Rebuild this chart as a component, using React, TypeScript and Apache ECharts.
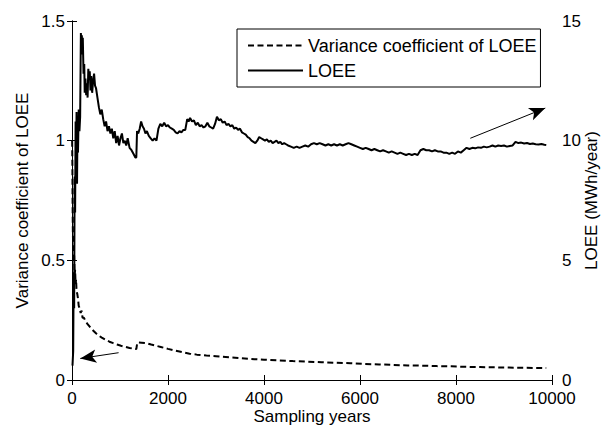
import { useEffect, useRef } from 'react';
import * as echarts from 'echarts';

const xTicks = [0, 2000, 4000, 6000, 8000, 10000];
const leftTicks = [0, 0.5, 1, 1.5];
const rightTicks = [0, 5, 10, 15];

const seriesNames = ['Variance coefficient of LOEE', 'LOEE'];

const loeeYears = [10, 25, 35, 45, 55, 65, 75, 85, 95, 105, 115, 125, 140, 155, 170, 185, 195, 205, 215, 225, 240, 255, 265, 280, 295, 310, 325, 340, 355, 370, 385, 400, 420, 440, 460, 480, 500, 530, 560, 590, 620, 650, 680, 710, 740, 770, 800, 830, 860, 890, 920, 950, 980, 1010, 1040, 1070, 1100, 1130, 1160, 1200, 1240, 1280, 1320, 1340, 1355, 1380, 1410, 1440, 1470, 1500, 1530, 1560, 1600, 1640, 1680, 1720, 1760, 1800, 1840, 1880, 1920, 1960, 2000, 2040, 2080, 2120, 2160, 2200, 2240, 2280, 2320, 2360, 2400, 2430, 2460, 2500, 2540, 2580, 2620, 2660, 2700, 2740, 2780, 2820, 2860, 2900, 2940, 2980, 3020, 3060, 3100, 3140, 3180, 3220, 3260, 3300, 3340, 3380, 3420, 3460, 3500, 3540, 3580, 3620, 3660, 3700, 3740, 3780, 3820, 3860, 3900, 3940, 3980, 4020, 4060, 4100, 4140, 4180, 4220, 4260, 4300, 4340, 4380, 4420, 4460, 4500, 4560, 4620, 4680, 4740, 4800, 4860, 4920, 4980, 5040, 5100, 5160, 5220, 5280, 5340, 5400, 5460, 5520, 5580, 5640, 5700, 5760, 5820, 5880, 5940, 6000, 6060, 6120, 6180, 6240, 6300, 6360, 6420, 6480, 6540, 6600, 6660, 6720, 6780, 6840, 6900, 6960, 7020, 7080, 7140, 7200, 7260, 7320, 7380, 7440, 7500, 7560, 7620, 7680, 7740, 7800, 7860, 7920, 7980, 8040, 8100, 8160, 8220, 8280, 8340, 8400, 8460, 8520, 8580, 8640, 8700, 8760, 8820, 8880, 8940, 9000, 9060, 9120, 9180, 9240, 9300, 9360, 9420, 9480, 9540, 9600, 9660, 9720, 9780, 9840, 9880];
const loeeValues = [0.6, 1.2, 4.5, 3.0, 8.5, 7.0, 10.8, 9.0, 11.2, 8.2, 10.9, 9.5, 11.3, 10.4, 11.0, 14.5, 13.8, 14.4, 13.6, 14.3, 12.8, 13.2, 12.0, 12.6, 11.9, 12.4, 11.8, 13.0, 12.6, 12.9, 12.1, 12.7, 12.0, 12.5, 12.8, 12.3, 12.2, 11.8, 11.4, 11.1, 11.3, 10.9, 10.6, 10.8, 10.4, 10.6, 10.3, 10.5, 10.1, 10.4, 9.9, 10.2, 9.8, 10.1, 10.3, 9.9, 10.0, 9.8, 10.1, 9.7, 9.6, 9.45, 9.3, 9.3, 10.4, 10.3, 10.5, 10.8, 10.6, 10.5, 10.3, 10.4, 10.2, 10.1, 10.0, 10.1, 10.0, 10.5, 10.7, 10.6, 10.75, 10.6, 10.65, 10.55, 10.5, 10.45, 10.35, 10.3, 10.4, 10.35, 10.45, 10.45, 10.9, 10.8, 10.95, 10.8, 10.85, 10.65, 10.75, 10.6, 10.65, 10.55, 10.6, 10.75, 10.6, 10.55, 10.5, 10.7, 11.0, 10.85, 10.9, 10.75, 10.8, 10.65, 10.7, 10.6, 10.65, 10.5, 10.55, 10.45, 10.5, 10.35, 10.3, 10.25, 10.15, 10.1, 10.0, 9.95, 9.9, 10.0, 10.15, 10.1, 10.05, 10.0, 10.05, 9.95, 10.0, 9.9, 9.95, 10.0, 9.9, 9.95, 9.85, 9.9, 9.85, 9.8, 9.75, 9.7, 9.75, 9.7, 9.75, 9.8, 9.75, 9.85, 9.9, 9.85, 9.9, 9.85, 9.8, 9.85, 9.8, 9.85, 9.8, 9.85, 9.8, 9.85, 9.9, 9.85, 9.8, 9.75, 9.7, 9.65, 9.7, 9.65, 9.6, 9.65, 9.6, 9.55, 9.6, 9.55, 9.5, 9.55, 9.5, 9.45, 9.5, 9.45, 9.4, 9.45, 9.4, 9.45, 9.4, 9.6, 9.65, 9.6, 9.6, 9.55, 9.6, 9.55, 9.55, 9.5, 9.5, 9.45, 9.5, 9.45, 9.55, 9.5, 9.6, 9.7, 9.65, 9.7, 9.68, 9.72, 9.7, 9.75, 9.72, 9.75, 9.8, 9.75, 9.8, 9.78, 9.8, 9.75, 9.78, 9.8, 9.95, 9.9, 9.92, 9.88, 9.9, 9.86, 9.88, 9.85, 9.84, 9.86, 9.83, 9.82];

const varYears = [3, 8, 12, 18, 25, 35, 45, 55, 65, 75, 85, 95, 110, 125, 140, 160, 180, 200, 220, 250, 280, 320, 360, 400, 450, 500, 560, 620, 700, 780, 860, 940, 1020, 1100, 1200, 1300, 1340, 1360, 1450, 1550, 1650, 1750, 1850, 2000, 2150, 2300, 2450, 2600, 2800, 3000, 3200, 3400, 3600, 3800, 4000, 4300, 4600, 4900, 5200, 5500, 5800, 6100, 6400, 6700, 7000, 7300, 7600, 7900, 8200, 8500, 8800, 9100, 9400, 9880];
const varValues = [1.0, 0.9, 0.75, 0.62, 0.55, 0.5, 0.52, 0.44, 0.46, 0.4, 0.42, 0.37, 0.36, 0.34, 0.31, 0.3, 0.28, 0.29, 0.26, 0.26, 0.245, 0.235, 0.225, 0.215, 0.205, 0.195, 0.185, 0.177, 0.168, 0.16, 0.154, 0.148, 0.143, 0.139, 0.134, 0.13, 0.129, 0.157, 0.156, 0.154, 0.148, 0.143, 0.138, 0.13, 0.123, 0.116, 0.11, 0.106, 0.102, 0.099, 0.096, 0.093, 0.09, 0.087, 0.085, 0.082, 0.079, 0.077, 0.074, 0.072, 0.07, 0.067, 0.065, 0.063, 0.061, 0.06, 0.058, 0.057, 0.055, 0.054, 0.053, 0.052, 0.051, 0.05];

// annotation arrows: [fromYear, fromValue, toYear, toValue]
const varArrow = [971, 0.114, 173, 0.09];
const loeeArrow = [8298, 10.1, 9860, 11.36];

const FONT = 'Liberation Sans, Arial, Helvetica, sans-serif';
const FS = 17;

export default function App() {
  const ref = useRef<HTMLDivElement>(null);
  useEffect(() => {
    if (!ref.current) return;
    const chart = echarts.init(ref.current, undefined, { renderer: 'svg' });
    const axisCommon = {
      axisLine: { show: true, lineStyle: { color: '#000', width: 1 } },
      axisTick: { show: true, inside: true, length: 5, lineStyle: { color: '#000' } },
      splitLine: { show: false },
      axisLabel: { color: '#000', fontSize: FS, fontFamily: FONT, formatter: (v: number) => String(v) },
      nameTextStyle: { color: '#000', fontSize: FS, fontFamily: FONT },
      nameMoveOverlap: false,
    };
    chart.setOption({
      animation: false,
      backgroundColor: '#fff',
      textStyle: { fontFamily: FONT },
      grid: { left: 72, right: 61, top: 21, bottom: 50, show: false },
      legend: {
        orient: 'vertical',
        left: 237,
        top: 29,
        data: seriesNames,
        backgroundColor: '#fff',
        borderColor: '#000',
        borderWidth: 1,
        borderRadius: 0,
        padding: [6, 4, 6, 10],
        itemWidth: 55,
        itemHeight: 12,
        itemGap: 4,
        itemStyle: { opacity: 0 },
        textStyle: { color: '#000', fontSize: 18, fontFamily: FONT, lineHeight: 21 },
      },
      xAxis: [
        {
          ...axisCommon,
          type: 'value',
          min: xTicks[0],
          max: xTicks[xTicks.length - 1],
          interval: xTicks[1] - xTicks[0],
          position: 'bottom',
          name: 'Sampling years',
          nameLocation: 'middle',
          nameGap: 28,
          axisLabel: { ...axisCommon.axisLabel, margin: 10 },
        },
        {
          ...axisCommon,
          type: 'value',
          min: xTicks[0],
          max: xTicks[xTicks.length - 1],
          interval: xTicks[1] - xTicks[0],
          position: 'top',
          axisLabel: { show: false },
        },
      ],
      yAxis: [
        {
          ...axisCommon,
          type: 'value',
          min: leftTicks[0],
          max: leftTicks[leftTicks.length - 1],
          interval: leftTicks[1] - leftTicks[0],
          position: 'left',
          name: 'Variance coefficient of LOEE',
          nameLocation: 'middle',
          nameRotate: 90,
          nameGap: 41,
          axisLabel: { ...axisCommon.axisLabel, margin: 7 },
        },
        {
          ...axisCommon,
          type: 'value',
          min: rightTicks[0],
          max: rightTicks[rightTicks.length - 1],
          interval: rightTicks[1] - rightTicks[0],
          position: 'right',
          name: 'LOEE (MWh/year)',
          nameLocation: 'middle',
          nameRotate: 90,
          nameGap: 31,
          axisLabel: { ...axisCommon.axisLabel, margin: 10 },
        },
      ],
      series: [
        {
          name: seriesNames[0],
          type: 'line',
          xAxisIndex: 0,
          yAxisIndex: 0,
          symbol: 'none',
          color: '#000',
          lineStyle: { color: '#000', width: 2, type: [6, 3.5] },
          data: varYears.map((y, i) => [y, varValues[i]]),
          markLine: {
            silent: true,
            symbol: ['none', 'arrow'],
            symbolSize: [10, 16],
            label: { show: false },
            lineStyle: { color: '#000', width: 1, type: 'solid' },
            data: [[{ coord: [varArrow[0], varArrow[1]] }, { coord: [varArrow[2], varArrow[3]] }]],
          },
        },
        {
          name: seriesNames[1],
          type: 'line',
          xAxisIndex: 0,
          yAxisIndex: 1,
          symbol: 'none',
          color: '#000',
          lineStyle: { color: '#000', width: 2, type: 'solid' },
          data: loeeYears.map((y, i) => [y, loeeValues[i]]),
          markLine: {
            silent: true,
            symbol: ['none', 'arrow'],
            symbolSize: [10, 16],
            label: { show: false },
            lineStyle: { color: '#000', width: 1, type: 'solid' },
            data: [[{ coord: [loeeArrow[0], loeeArrow[1]] }, { coord: [loeeArrow[2], loeeArrow[3]] }]],
          },
        },
      ],
    });
    return () => chart.dispose();
  }, []);
  return <div ref={ref} style={{ position: 'fixed', left: 0, top: 0, width: 613, height: 430 }} />;
}
